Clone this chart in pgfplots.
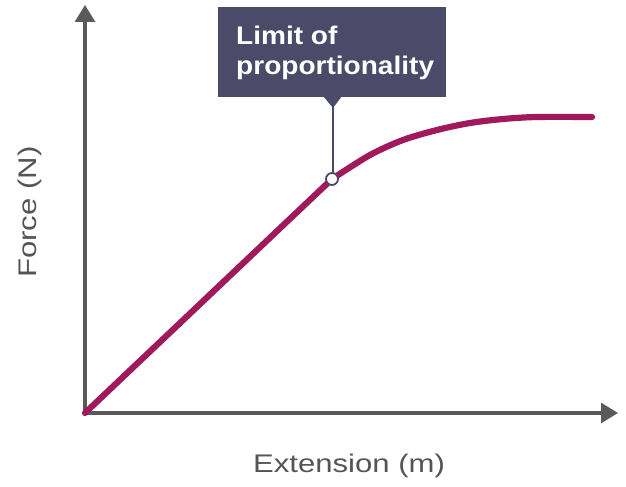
\documentclass[border=0pt]{standalone}
\usepackage{fontspec}
\setmainfont{Liberation Sans}
\newfontfamily\labelfont{Liberation Sans}[FakeStretch=1.22]
\newfontfamily\boxfont{Liberation Sans Bold}[FakeStretch=1.1]
\usepackage{pgfplots}
\pgfplotsset{compat=1.18}
\usetikzlibrary{arrows.meta}
\definecolor{curve}{RGB}{160,25,90}
\definecolor{boxc}{RGB}{75,74,105}
\definecolor{axc}{RGB}{90,90,90}
\definecolor{txt}{RGB}{85,85,85}
\begin{document}
\begin{tikzpicture}
\begin{axis}[
  scale only axis, width=533bp, height=408bp,
  xmin=0, xmax=533, ymin=0, ymax=408,
  axis lines=left,
  axis line style={axc, line width=3bp, -{Triangle[length=17bp,width=20bp]}},
  xtick=\empty, ytick=\empty,
  clip=false,
]
\coordinate (O) at (axis cs:0,0);
% callout box
\fill[boxc] (axis cs:133,316) rectangle (axis cs:361,406);
\fill[boxc] (axis cs:238,317) -- (axis cs:257,317) -- (axis cs:248,305) -- cycle;
\draw[boxc, line width=1.8bp] (axis cs:248,306) -- (axis cs:248,234);
\node[anchor=base west, inner sep=0pt, text=white] at (axis cs:151,368) {\fontsize{25.5bp}{30bp}\boxfont Limit of};
\node[anchor=base west, inner sep=0pt, text=white] at (axis cs:151,338) {\fontsize{25.5bp}{30bp}\boxfont proportionality};
% data
\addplot[curve, line width=6.2bp, line cap=round] coordinates {(0,0) (247,234)};
\addplot[curve, line width=6.2bp, line cap=round, smooth] coordinates {(247,234) (285,258) (318,273) (352,283) (385,290) (418,294) (452,296) (507,296)};
\addplot[only marks, mark=*, mark size=6bp, mark options={fill=white, draw=boxc, line width=1.8bp}] coordinates {(247,234)};
% labels
\node[text=txt, inner sep=0pt] at (axis cs:264,-53) {\fontsize{25.5bp}{30bp}\labelfont Extension (m)};
\node[text=txt, inner sep=0pt, rotate=90] at (axis cs:-55,201) {\fontsize{25.5bp}{30bp}\labelfont Force (N)};
\end{axis}
\pgfresetboundingbox
\path ([shift={(-85bp,-74bp)}]O) rectangle ([shift={(541bp,413bp)}]O);
\end{tikzpicture}
\end{document}
